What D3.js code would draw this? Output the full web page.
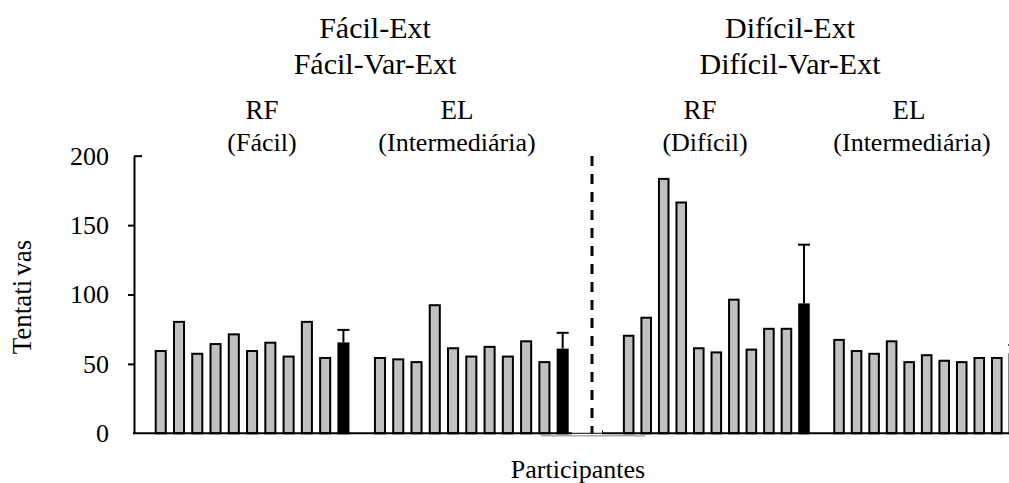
<!DOCTYPE html>
<html>
<head>
<meta charset="utf-8">
<script src="https://cdn.jsdelivr.net/npm/d3@7"></script>
<style>
  body { margin: 0; background: #fff; overflow: hidden; }
  text { font-family: "Liberation Serif", "Times New Roman", serif; fill: #000; }
</style>
</head>
<body>
<script>
// participants, one bar each; last bar of each group is the mean (black) with SD
var rfFacil = [60, 81, 58, 65, 72, 60, 66, 56, 81, 55];
var elFacil = [55, 54, 52, 93, 62, 56, 63, 56, 67, 52];
var rfDificil = [71, 84, 184, 167, 62, 59, 97, 61, 76, 76];
var elDificil = [68, 60, 58, 67, 52, 57, 53, 52, 55, 55];
var groupMeans = [65.5, 61, 93.6, 57.7];
var groupSD = [9, 11.4, 42.3, 5.9];
var yTicks = [0, 50, 100, 150, 200];
var titles = [['Fácil-Ext', 'Fácil-Var-Ext'], ['Difícil-Ext', 'Difícil-Var-Ext']];
var subTitles = [['RF', '(Fácil)'], ['EL', '(Intermediária)'], ['RF', '(Difícil)'], ['EL', '(Intermediária)']];

var width = 1009, height = 483;
var svg = d3.select('body').append('svg')
  .attr('width', width)
  .attr('height', height);

var y = d3.scaleLinear().domain([0, 200]).range([433.3, 155.7]);

// each panel: 11 bars, one empty slot, 11 bars
var slots = d3.range(23);
var panels = [
  { range: [151.6, 571.8], groups: [rfFacil, elFacil], g: 0 },
  { range: [619.9, 1023.1], groups: [rfDificil, elDificil], g: 2 }
];

panels.forEach(function(p) {
  var x = d3.scaleBand().domain(slots).range(p.range)
    .paddingInner(0.34).paddingOuter(0.17);
  var rows = [];
  p.groups.forEach(function(vals, gi) {
    var start = gi * 12;
    vals.forEach(function(v, i) {
      rows.push({ slot: start + i, v: v, mean: false });
    });
    rows.push({ slot: start + 10, v: groupMeans[p.g + gi], sd: groupSD[p.g + gi], mean: true });
  });

  svg.append('g').selectAll('rect')
    .data(rows)
    .enter().append('rect')
    .attr('x', function(d) { return x(d.slot) + 1; })
    .attr('y', function(d) { return y(d.v) + 1; })
    .attr('width', x.bandwidth() - 2)
    .attr('height', function(d) { return y(0) - y(d.v) - 1; })
    .attr('fill', function(d) { return d.mean ? '#000' : '#c0c0c0'; })
    .attr('stroke', '#000')
    .attr('stroke-width', 2);

  var errs = rows.filter(function(d) { return d.mean; });
  var eg = svg.append('g').attr('stroke', '#000').attr('stroke-width', 2);
  eg.selectAll('.err')
    .data(errs)
    .enter().append('line')
    .attr('class', 'err')
    .attr('x1', function(d) { return x(d.slot) + x.bandwidth() / 2; })
    .attr('x2', function(d) { return x(d.slot) + x.bandwidth() / 2; })
    .attr('y1', function(d) { return y(d.v); })
    .attr('y2', function(d) { return y(d.v + d.sd); });
  eg.selectAll('.cap')
    .data(errs)
    .enter().append('line')
    .attr('class', 'cap')
    .attr('x1', function(d) { return x(d.slot) + x.bandwidth() / 2 - 6; })
    .attr('x2', function(d) { return x(d.slot) + x.bandwidth() / 2 + 6; })
    .attr('y1', function(d) { return y(d.v + d.sd); })
    .attr('y2', function(d) { return y(d.v + d.sd); });
});

// x axis lines (two pasted panels)
var base = y(0);
svg.append('line').attr('x1', 133).attr('x2', 572).attr('y1', base).attr('y2', base)
  .attr('stroke', '#000').attr('stroke-width', 2);
svg.append('line').attr('x1', 541).attr('x2', 645).attr('y1', base + 2.5).attr('y2', base + 2.5)
  .attr('stroke', '#aaa').attr('stroke-width', 1.5);
svg.append('line').attr('x1', 572).attr('x2', 602).attr('y1', base).attr('y2', base)
  .attr('stroke', '#000').attr('stroke-width', 1);
svg.append('line').attr('x1', 602).attr('x2', width).attr('y1', base).attr('y2', base)
  .attr('stroke', '#000').attr('stroke-width', 2);
svg.append('line').attr('x1', 602.5).attr('x2', 602.5).attr('y1', base).attr('y2', base - 3)
  .attr('stroke', '#000').attr('stroke-width', 1);

// y axis
var yAxis = svg.append('g')
  .attr('transform', 'translate(134,0)')
  .call(d3.axisLeft(y).tickValues(yTicks).tickSize(6).tickSizeOuter(0).tickPadding(19));
yAxis.select('.domain').attr('stroke-width', 2);
yAxis.selectAll('.tick line').attr('stroke-width', 2)
  .attr('x2', function(d) { return d === 200 ? 8 : (d === 0 ? 0 : -6); });
yAxis.selectAll('.tick text')
  .style('font-family', '"Liberation Serif", serif')
  .style('font-size', '26px');

// dashed separator
svg.append('line')
  .attr('x1', 592).attr('x2', 592)
  .attr('y1', 156).attr('y2', base)
  .attr('stroke', '#000').attr('stroke-width', 3)
  .attr('stroke-dasharray', '10,8');

// headings
var titleX = [375, 790];
titles.forEach(function(t, i) {
  svg.append('text').attr('x', titleX[i]).attr('y', 37.5)
    .attr('text-anchor', 'middle').style('font-size', '30px').text(t[0]);
  svg.append('text').attr('x', titleX[i]).attr('y', 74)
    .attr('text-anchor', 'middle').style('font-size', '30px').text(t[1]);
});
var subX = [[262, 262], [457, 457], [700, 705], [909, 912]];
subTitles.forEach(function(t, i) {
  svg.append('text').attr('x', subX[i][0]).attr('y', 119)
    .attr('text-anchor', 'middle').style('font-size', '27px').text(t[0]);
  svg.append('text').attr('x', subX[i][1]).attr('y', 151)
    .attr('text-anchor', 'middle').style('font-size', '26px').text(t[1]);
});

// axis titles
var yt = svg.append('text')
  .attr('transform', 'translate(31,297) rotate(-90)')
  .attr('text-anchor', 'middle')
  .style('font-size', '27px');
yt.append('tspan').text('Tentati');
yt.append('tspan').attr('dx', 4).text('vas');
svg.append('text')
  .attr('x', 578).attr('y', 478)
  .attr('text-anchor', 'middle')
  .style('font-size', '26px')
  .text('Participantes');
</script>
</body>
</html>
